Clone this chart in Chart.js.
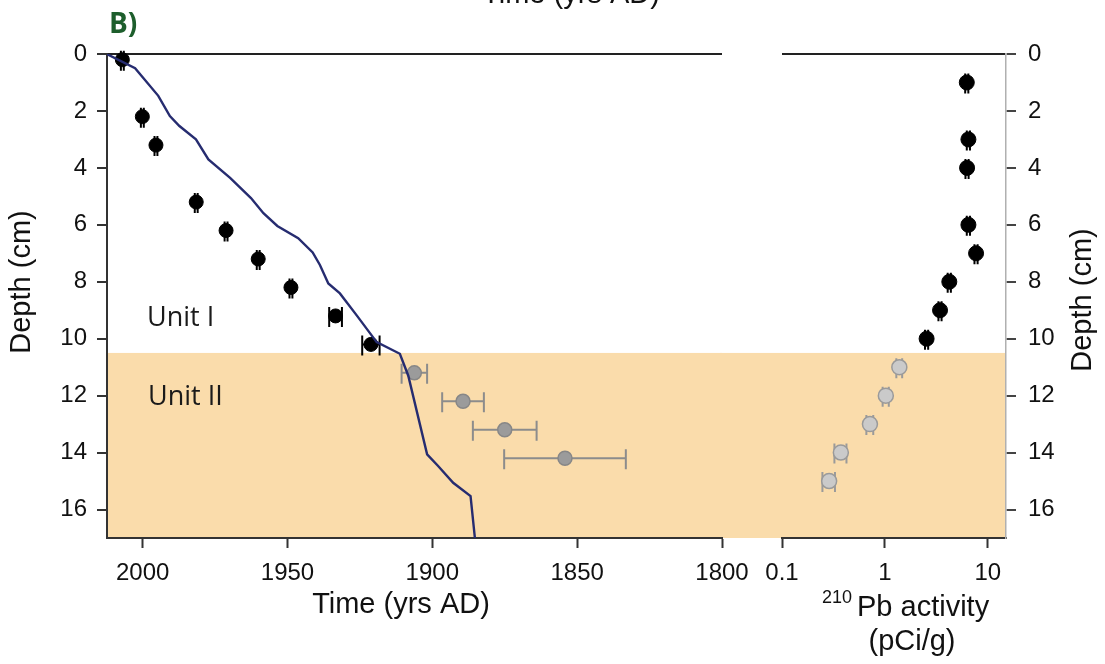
<!DOCTYPE html>
<html>
<head>
<meta charset="utf-8">
<script src="https://cdn.jsdelivr.net/npm/chart.js@4.4.1/dist/chart.umd.min.js"></script>
<style>
  html, body { margin: 0; padding: 0; background: #fff; }
  #wrap { position: relative; width: 1105px; height: 664px; overflow: hidden; }
  #wrap canvas { position: absolute; top: 0; }
  #pbChart { left: 720px; }
  #ageChart { left: 0; }
</style>
</head>
<body>
<div id="wrap">
  <canvas id="pbChart" width="385" height="664"></canvas>
  <canvas id="ageChart" width="760" height="664"></canvas>
</div>
<script>
// age-depth model line
const modelYears = [2012.4, 2002.6, 1994.6, 1990.6, 1987.3, 1981.6, 1977.3, 1969.8, 1962.6, 1958.3, 1953.5, 1946.3, 1941.3, 1938.8, 1935.9, 1931.9, 1926.1, 1919.2, 1911.2, 1908.3, 1901.8, 1898.0, 1892.8, 1886.8, 1885.3];
const modelDepths = [0, 0.5, 1.47, 2.18, 2.53, 3.0, 3.7, 4.35, 5.06, 5.59, 6.04, 6.47, 6.97, 7.41, 8.06, 8.41, 9.18, 10.12, 10.53, 11.3, 14.06, 14.47, 15.06, 15.53, 17.0];

// dated samples
const unit1Depths = [0.2, 2.2, 3.2, 5.2, 6.2, 7.2, 8.2, 9.2, 10.2];
const unit1Years = [2007.0, 2000.1, 1995.4, 1981.5, 1971.2, 1960.1, 1948.8, 1933.4, 1921.2];
const unit1YearErr = [0.5, 0.5, 0.5, 0.5, 0.5, 0.5, 0.5, 2.2, 3.0];
const unit2Depths = [11.2, 12.2, 13.2, 14.2];
const unit2Years = [1906.2, 1889.4, 1875.0, 1854.2];
const unit2YearErr = [4.4, 7.2, 11, 21];

// 210Pb activity
const pbDepths1 = [1, 3, 4, 6, 7, 8, 9, 10];
const pbActivity1 = [6.24, 6.47, 6.28, 6.47, 7.68, 4.22, 3.43, 2.54];
const pbErr1 = [0.22, 0.23, 0.22, 0.23, 0.27, 0.15, 0.12, 0.09];
const pbDepths2 = [11, 12, 13, 14, 15];
const pbActivity2 = [1.38, 1.02, 0.715, 0.373, 0.287];
const pbErr2 = [0.09, 0.07, 0.055, 0.05, 0.04];

const depthTicks = [0, 2, 4, 6, 8, 10, 12, 14, 16];
const yearTicks = [2000, 1950, 1900, 1850, 1800];
const pbTicks = [0.1, 1, 10];
const unitBoundary = 10.5;

const pts = (xs, ys) => xs.map((x, i) => ({ x: x, y: ys[i] }));

Chart.defaults.font.family = '"Liberation Sans", Arial, sans-serif';
Chart.defaults.color = '#111';

const TITLE_FONT = '29px "Liberation Sans", Arial, sans-serif';
const BAND = '#fadcab';

// shaded Unit II band
const bandPlugin = {
  id: 'band',
  beforeDraw(chart, args, opts) {
    const { ctx, chartArea, scales } = chart;
    const top = scales.y.getPixelForValue(opts.from);
    const left = opts.extendLeft ? 0 : chartArea.left;
    ctx.save();
    ctx.fillStyle = opts.color;
    ctx.fillRect(left, top, chartArea.right - left, chartArea.bottom - top);
    ctx.restore();
  }
};

// horizontal error bars with caps
const errorBarPlugin = {
  id: 'errorBars',
  beforeDatasetsDraw(chart) {
    const { ctx, scales } = chart;
    chart.data.datasets.forEach(ds => {
      if (!ds.xErr) return;
      ctx.save();
      ctx.strokeStyle = ds.errColor;
      ctx.lineWidth = 2;
      ds.data.forEach((p, j) => {
        const e = ds.xErr[j];
        const x1 = scales.x.getPixelForValue(p.x - e);
        const x2 = scales.x.getPixelForValue(p.x + e);
        const y = scales.y.getPixelForValue(p.y);
        ctx.beginPath();
        ctx.moveTo(x1, y); ctx.lineTo(x2, y);
        ctx.moveTo(x1, y - 9); ctx.lineTo(x1, y + 11);
        ctx.moveTo(x2, y - 9); ctx.lineTo(x2, y + 11);
        ctx.stroke();
      });
      ctx.restore();
    });
  }
};

// free text (titles, unit labels)
const textPlugin = {
  id: 'texts',
  afterDraw(chart, args, opts) {
    const ctx = chart.ctx;
    (opts.items || []).forEach(t => {
      ctx.save();
      ctx.font = t.font || TITLE_FONT;
      ctx.fillStyle = t.color || '#111';
      ctx.textAlign = t.align || 'center';
      ctx.textBaseline = t.baseline || 'alphabetic';
      ctx.translate(t.x, t.y);
      if (t.rotate) ctx.rotate(t.rotate);
      ctx.fillText(t.text, 0, 0);
      ctx.restore();
    });
  }
};

const zeroLine = c => (c.tick && c.tick.value === 0 ? '#222' : 'rgba(0,0,0,0)');

new Chart(document.getElementById('ageChart'), {
  type: 'scatter',
  data: {
    datasets: [
      {
        type: 'line',
        data: pts(modelYears, modelDepths),
        borderColor: '#262c70',
        borderWidth: 2.4,
        pointRadius: 0,
        tension: 0,
        fill: false
      },
      {
        data: pts(unit1Years, unit1Depths),
        xErr: unit1YearErr,
        errColor: '#000',
        backgroundColor: '#000',
        borderColor: '#000',
        pointRadius: 7,
        clip: false
      },
      {
        data: pts(unit2Years, unit2Depths),
        xErr: unit2YearErr,
        errColor: '#8c8c8c',
        backgroundColor: '#9b9b9b',
        borderColor: '#878787',
        borderWidth: 1.5,
        pointRadius: 7,
        clip: false
      }
    ]
  },
  options: {
    responsive: false,
    animation: false,
    layout: { padding: { left: 0, right: 38, top: 54, bottom: 0 } },
    plugins: {
      legend: { display: false },
      tooltip: { enabled: false },
      band: { from: unitBoundary, color: BAND, extendLeft: false },
      texts: {
        items: [
          { text: 'Time (yrs AD)', x: 571, y: 3 },
          { text: 'B)', x: 109, y: 33, align: 'left', font: 'bold 28px "Open Sans", sans-serif', color: '#1d5e2c' },
          { text: 'Depth (cm)', x: 22, y: 282, rotate: -Math.PI / 2, baseline: 'middle' },
          { text: 'Time (yrs AD)', x: 401, y: 613 },
          { text: 'Unit I', x: 147, y: 326, align: 'left', font: '27px "Open Sans", sans-serif', color: '#1a1a1a' },
          { text: 'Unit II', x: 148, y: 405, align: 'left', font: '27px "Open Sans", sans-serif', color: '#1a1a1a' }
        ]
      }
    },
    scales: {
      x: {
        type: 'linear',
        reverse: true,
        min: 1800,
        max: 2012.3,
        afterFit: s => { s.height = 126; },
        afterBuildTicks: s => { s.ticks = yearTicks.map(v => ({ value: v })); },
        ticks: { padding: 11, font: { size: 24 }, callback: v => String(v) },
        grid: { drawOnChartArea: false, tickLength: 10, tickColor: '#333', tickWidth: 2 },
        border: { color: '#333', width: 2 }
      },
      y: {
        type: 'linear',
        reverse: true,
        min: 0,
        max: 17,
        afterFit: s => { s.width = 107; },
        afterBuildTicks: s => { s.ticks = depthTicks.map(v => ({ value: v })); },
        ticks: { padding: 10, font: { size: 24 }, callback: v => String(v) },
        grid: { color: zeroLine, lineWidth: 2, tickLength: 10, tickColor: '#333', tickWidth: 2 },
        border: { color: '#333', width: 2 }
      }
    }
  },
  plugins: [bandPlugin, errorBarPlugin, textPlugin]
});

new Chart(document.getElementById('pbChart'), {
  type: 'scatter',
  data: {
    datasets: [
      {
        data: pts(pbActivity1, pbDepths1),
        xErr: pbErr1,
        errColor: '#000',
        backgroundColor: '#000',
        borderColor: '#000',
        pointRadius: 7.5,
        clip: false
      },
      {
        data: pts(pbActivity2, pbDepths2),
        xErr: pbErr2,
        errColor: '#9a9a9a',
        backgroundColor: '#cacaca',
        borderColor: '#9a9a9a',
        borderWidth: 1.5,
        pointRadius: 7.5,
        clip: false
      }
    ]
  },
  options: {
    responsive: false,
    animation: false,
    layout: { padding: { left: 62, right: 0, top: 54, bottom: 0 } },
    plugins: {
      legend: { display: false },
      tooltip: { enabled: false },
      band: { from: unitBoundary, color: BAND, extendLeft: true },
      texts: {
        items: [
          { text: 'Depth (cm)', x: 363, y: 300, rotate: -Math.PI / 2, baseline: 'middle' },
          { text: '210', x: 102, y: 603, align: 'left', font: '18px "Liberation Sans", Arial, sans-serif' },
          { text: 'Pb activity', x: 137, y: 616, align: 'left' },
          { text: '(pCi/g)', x: 192, y: 650 }
        ]
      }
    },
    scales: {
      x: {
        type: 'logarithmic',
        min: 0.1,
        max: 15,
        afterFit: s => { s.height = 126; },
        afterBuildTicks: s => { s.ticks = pbTicks.map(v => ({ value: v })); },
        ticks: { padding: 11, font: { size: 24 }, callback: v => String(v) },
        grid: { drawOnChartArea: false, tickLength: 10, tickColor: '#333', tickWidth: 2 },
        border: { color: '#333', width: 2 }
      },
      y: {
        type: 'linear',
        position: 'right',
        reverse: true,
        min: 0,
        max: 17,
        afterFit: s => { s.width = 99; },
        afterBuildTicks: s => { s.ticks = depthTicks.map(v => ({ value: v })); },
        ticks: { padding: 12, font: { size: 24 }, callback: v => String(v) },
        grid: { color: zeroLine, lineWidth: 2, tickLength: 10, tickColor: '#444', tickWidth: 2 },
        border: { color: '#b0b0b0', width: 1.5 }
      }
    }
  },
  plugins: [bandPlugin, errorBarPlugin, textPlugin]
});
</script>
</body>
</html>
